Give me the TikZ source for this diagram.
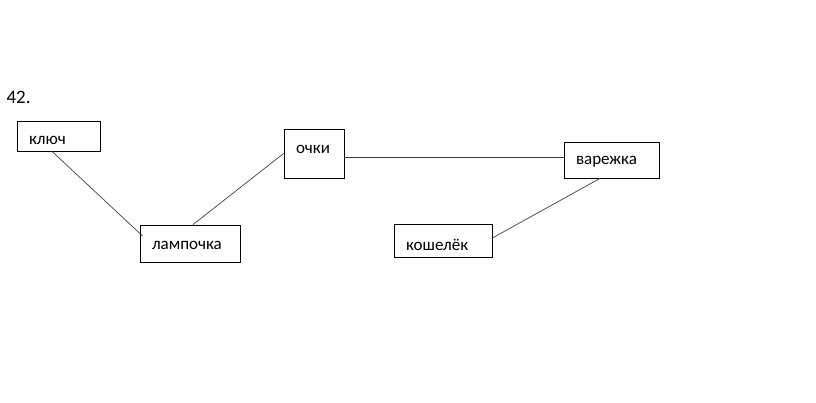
\documentclass[tikz,border=0pt]{standalone}
\usepackage{fontspec}
\setmainfont{Carlito}
\usepackage{tikz}
\usetikzlibrary{positioning}

\newcommand{\shifttext}[2]{\raisebox{#1}[\height][\depth]{#2}}

\begin{document}
\begin{tikzpicture}[
x=1pt, y=1pt,
font=\fontsize{17}{19}\selectfont,
box/.style 2 args={draw, line width=0.8pt, inner xsep=12pt, inner ysep=0pt, text width=#1, minimum height=#2, align=left},
link/.style={line width=0.7pt, black!75}
]
    % Page frame
    \useasboundingbox (0,0) rectangle (816,403);

    \node (num) [anchor=west, font=\fontsize{19}{21}\selectfont] at (3,306) {42.};

    % Draw boxes
    \node (kljuch)   [box={59pt}{30pt}] at (58.5,267)  {\shifttext{-4pt}{ключ}};
    \node (lampa)    [box={76pt}{37pt}] at (190,159.5) {\shifttext{-1.5pt}{лампочка}};
    \node (ochki)    [box={36pt}{49pt}] at (314,249.5) {\shifttext{4.5pt}{очки}};
    \node (varezhka) [box={71pt}{36pt}] at (611.5,243) {\shifttext{-1.5pt}{варежка}};
    \node (koshelek) [box={74pt}{33pt}] at (443,162.5) {\shifttext{-4.5pt}{кошелёк}};

    % Draw links
    \draw[link] ([xshift=-6.5pt]kljuch.south) -- ([xshift=3pt, yshift=7.5pt]lampa.west);
    \draw[link] ([xshift=3pt]lampa.north) -- (ochki.west);
    \draw[link] ([yshift=-3.5pt]ochki.east) -- ([yshift=3pt]varezhka.west);
    \draw[link] ([xshift=-11.5pt]varezhka.south) -- ([yshift=2.5pt]koshelek.east);

\end{tikzpicture}
\end{document}
